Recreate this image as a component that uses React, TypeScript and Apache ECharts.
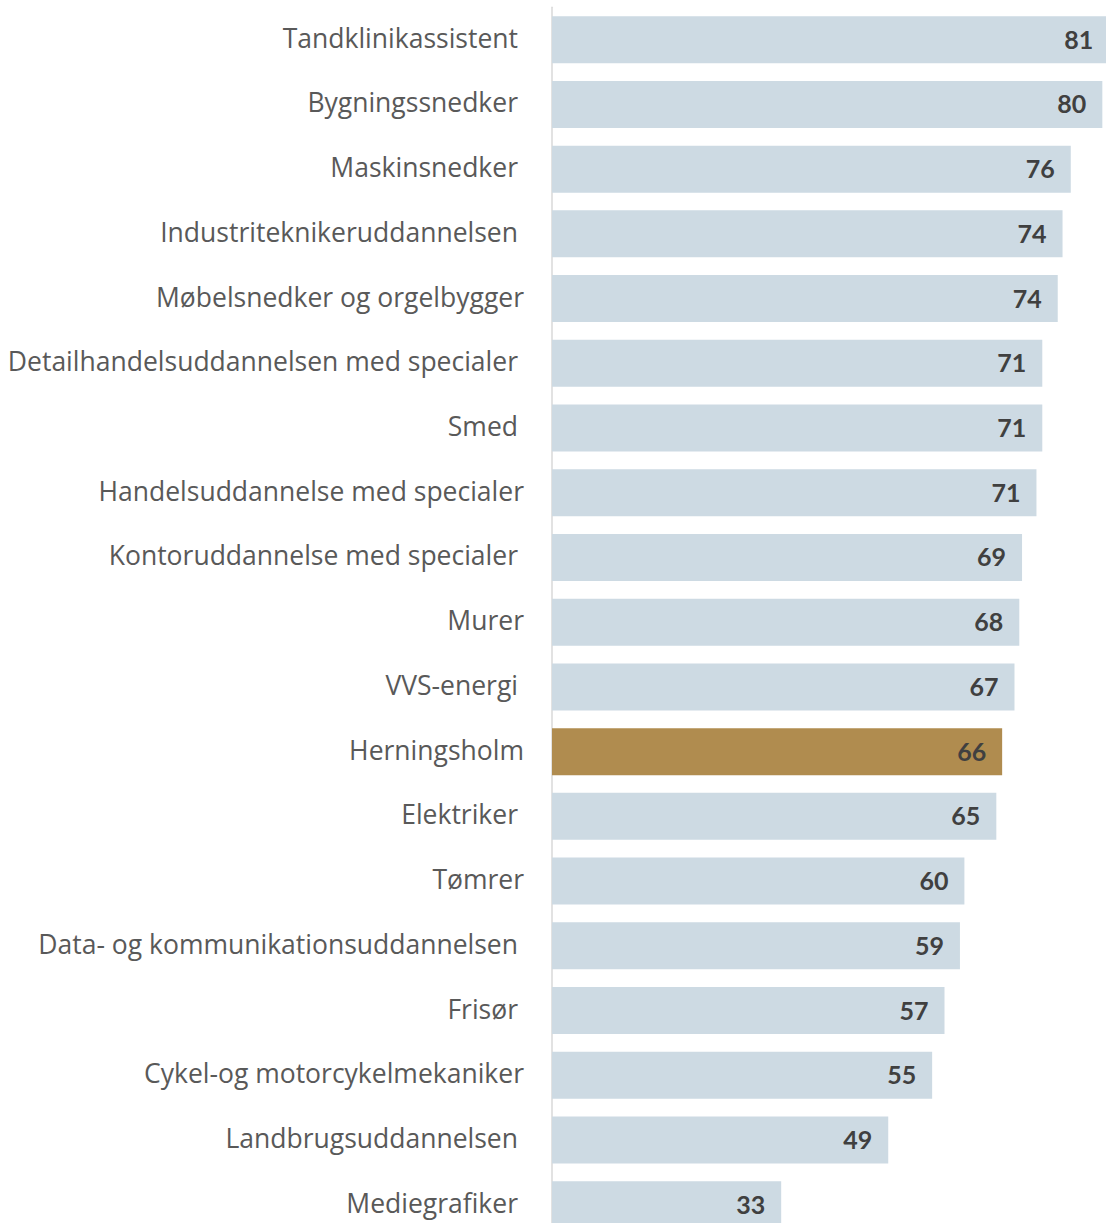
import React, { useEffect, useRef } from "react";
import * as echarts from "echarts";

const categories = [
  "Tandklinikassistent",
  "Bygningssnedker",
  "Maskinsnedker",
  "Industriteknikeruddannelsen",
  "Møbelsnedker og orgelbygger",
  "Detailhandelsuddannelsen med specialer",
  "Smed",
  "Handelsuddannelse med specialer",
  "Kontoruddannelse med specialer",
  "Murer",
  "VVS-energi",
  "Herningsholm",
  "Elektriker",
  "Tømrer",
  "Data- og kommunikationsuddannelsen",
  "Frisør",
  "Cykel-og motorcykelmekaniker",
  "Landbrugsuddannelsen",
  "Mediegrafiker",
];

const values = [
  81.2, 80.2, 75.6, 74.4, 73.7, 71.45, 71.45, 70.6, 68.5, 68.1, 67.4, 65.6,
  64.75, 60.1, 59.45, 57.2, 55.4, 49.0, 33.4,
];

// labels in the original that carry a trailing space (end further left)
const paddedLabels = [
  "Tandklinikassistent",
  "Bygningssnedker",
  "Maskinsnedker",
  "Industriteknikeruddannelsen",
  "Detailhandelsuddannelsen med specialer",
  "Smed",
  "Kontoruddannelse med specialer",
  "VVS-energi",
  "Elektriker",
  "Data- og kommunikationsuddannelsen",
  "Frisør",
  "Landbrugsuddannelsen",
  "Mediegrafiker",
];

const highlight = "Herningsholm";

export default function App() {
  const ref = useRef<HTMLDivElement>(null);
  useEffect(() => {
    if (!ref.current) return;
    const chart = echarts.init(ref.current, undefined, { renderer: "svg" });
    const pitch = 64.72;
    const pxPerUnit = 6.862;
    const xMax = 85;
    const catFont = { fontFamily: "Open Sans", fontSize: 26.5, color: "#595959" };
    chart.setOption({
      animation: false,
      textStyle: { fontFamily: "Open Sans" },
      grid: {
        left: 552,
        top: 7.35,
        height: pitch * categories.length,
        width: xMax * pxPerUnit,
        containLabel: false,
      },
      xAxis: {
        type: "value",
        min: 0,
        max: xMax,
        show: false,
      },
      yAxis: {
        type: "category",
        inverse: true,
        data: categories,
        axisTick: { show: false },
        axisLine: { show: true, lineStyle: { color: "#d9d9d9", width: 1.5 } },
        axisLabel: {
          margin: 28,
          formatter: (v: string) =>
            paddedLabels.includes(v) ? `{p|${v}}` : `{n|${v}}`,
          rich: {
            n: { ...catFont, padding: [0, 0, 4, 0] },
            p: { ...catFont, padding: [0, 6, 4, 0] },
          },
        },
        splitLine: { show: false },
      },
      series: [
        {
          type: "bar",
          barWidth: 47,
          data: values.map((v, i) =>
            categories[i] === highlight
              ? { value: v, itemStyle: { color: "#b08c4f" } }
              : v
          ),
          itemStyle: { color: "#cddae3" },
          label: {
            show: true,
            position: "insideRight",
            distance: 16,
            offset: [0, -1],
            fontFamily: "Lato",
            fontWeight: "bold",
            fontSize: 25,
            color: "#404040",
            formatter: (p: any) => String(Math.round(p.value)),
          },
        },
      ],
    });
    return () => chart.dispose();
  }, []);
  return (
    <div
      style={{
        position: "fixed",
        top: 0,
        left: 0,
        width: 1106,
        height: 1223,
        overflow: "hidden",
        background: "#fff",
      }}
    >
      <div ref={ref} style={{ width: 1140, height: 1245 }} />
    </div>
  );
}
